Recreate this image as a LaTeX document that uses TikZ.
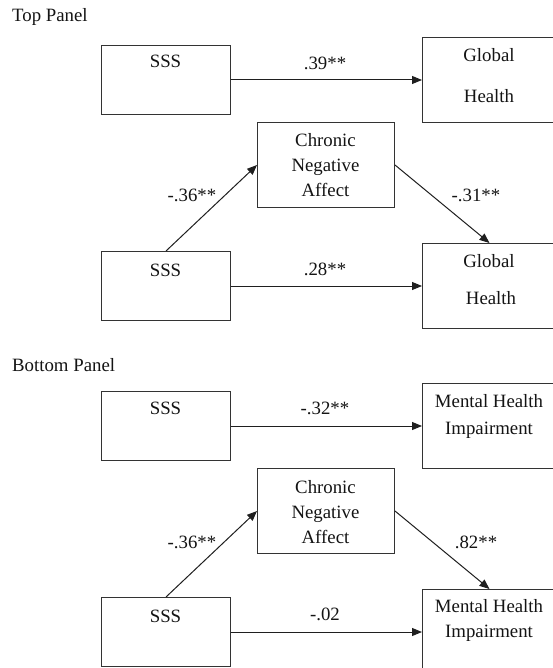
\documentclass[tikz,border=0pt]{standalone}
\usepackage{fontspec}
\setmainfont{Liberation Serif}
\usetikzlibrary{arrows.meta}
\newcommand\mylines[1]{\begin{tabular}[t]{@{}c@{}}#1\end{tabular}}
\begin{document}
\begin{tikzpicture}[x=1pt,y=-1pt,
  box/.style={draw=black!80, line width=1pt, inner sep=0pt, anchor=north west},
  lbox/.style={box, minimum width=129pt, minimum height=69pt},
  rbox/.style={box, minimum width=134pt, minimum height=85pt},
  cbox/.style={box, minimum width=137pt, minimum height=85pt},
  txt/.style={inner sep=0pt, anchor=base, text=black!92, font={\rmfamily\fontsize{18.8}{25}\selectfont}},
  arr/.style={draw=black!88, line width=1pt, -{Triangle[length=10pt,width=8pt]}}]
\useasboundingbox (0,0) rectangle (553,668);
\fill[white] (0,0) rectangle (553,668);

% ---------- Top panel ----------
\node[txt, anchor=base west] (tp) at (12,22) {Top Panel};
\node[lbox] (s1) at (101,45) {};
\node[rbox] (g1) at (422,37) {};
\node[txt] (s1t) at (165.5,68) {SSS};
\node[txt] (g1t) at (489,62) {\mylines{Global\\[16pt]Health}};
\draw[arr] (s1.east) -- (s1.east -| g1.west);
\node[txt] (l1) at (325,70) {.39**};

\node[cbox] (c1) at (257,122) {};
\node[txt] (c1t) at (325.5,147) {\mylines{Chronic\\Negative\\Affect}};
\node[lbox] (s2) at (101,251) {};
\node[rbox] (g2) at (422,243) {};
\node[txt] (s2t) at (165.5,276) {SSS};
\node[txt] (g2t) at (489,267) {\mylines{Global\\[12pt]\hspace*{4pt}Health}};
\draw[arr] (s2.north) -- (c1.west);
\draw[arr] (c1.east) -- (g2.north);
\draw[arr] (s2.east) -- (s2.east -| g2.west);
\node[txt] (l2) at (192,202) {-.36**};
\node[txt] (l3) at (476,202) {-.31**};
\node[txt] (l4) at (325,275) {.28**};

% ---------- Bottom panel ----------
\node[txt, anchor=base west] (bp) at (12,371) {Bottom Panel};
\node[lbox] (s3) at (101,391) {};
\node[rbox] (m1) at (422,383) {};
\node[txt] (s3t) at (165.5,414) {SSS};
\node[txt] (m1t) at (489,407) {\mylines{Mental Health\\[2pt]Impairment}};
\draw[arr] (s3.east) -- (s3.east -| m1.west);
\node[txt] (l5) at (325,414) {-.32**};

\node[cbox] (c2) at (257,468) {};
\node[txt] (c2t) at (325.5,493) {\mylines{Chronic\\Negative\\Affect}};
\node[lbox] (s4) at (101,597) {};
\node[rbox] (m2) at (422,589) {};
\node[txt] (s4t) at (165.5,622) {SSS};
\node[txt] (m2t) at (489,612) {\mylines{Mental Health\\Impairment}};
\draw[arr] (s4.north) -- (c2.west);
\draw[arr] (c2.east) -- (m2.north);
\draw[arr] (s4.east) -- (s4.east -| m2.west);
\node[txt] (l6) at (192,548) {-.36**};
\node[txt] (l7) at (476,548) {.82**};
\node[txt] (l8) at (325,620) {-.02};
\end{tikzpicture}
\end{document}
